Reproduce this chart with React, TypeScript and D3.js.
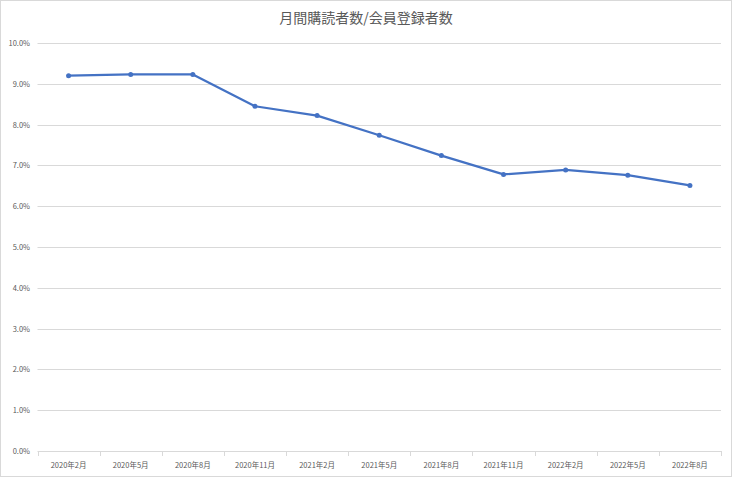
import React, { useEffect, useRef } from 'react';
import * as d3 from 'd3';

const categories = [
  '2020年2月', '2020年5月', '2020年8月', '2020年11月', '2021年2月', '2021年5月',
  '2021年8月', '2021年11月', '2022年2月', '2022年5月', '2022年8月',
];
const ratios = [9.2, 9.23, 9.23, 8.45, 8.22, 7.74, 7.24, 6.78, 6.89, 6.76, 6.51];
const yTicks = [0, 1, 2, 3, 4, 5, 6, 7, 8, 9, 10];
const title = '月間購読者数/会員登録者数';

const W = 734;
const H = 479;
const font = '"Noto Sans CJK JP", "Noto Sans", sans-serif';

const App: React.FC = () => {
  const ref = useRef<SVGSVGElement>(null);

  useEffect(() => {
    if (!ref.current) return;
    const svg = d3.select(ref.current);
    svg.selectAll('*').remove();

    const x = d3.scaleBand<string>().domain(categories).range([37.5, 721]);
    const y = d3.scaleLinear().domain([0, 10]).range([451, 43]);

    svg.append('rect')
      .attr('x', 0.5).attr('y', 0.5)
      .attr('width', W - 3).attr('height', H - 3)
      .attr('fill', '#fff').attr('stroke', '#d9d9d9');

    svg.append('text')
      .attr('x', 366).attr('y', 23)
      .attr('text-anchor', 'middle')
      .attr('font-family', font).attr('font-size', 14)
      .attr('fill', '#595959')
      .text(title);

    // grid + y labels
    const g = svg.append('g');
    g.selectAll('line.grid')
      .data(yTicks)
      .join('line')
      .attr('class', 'grid')
      .attr('x1', 37.5).attr('x2', 721)
      .attr('y1', d => Math.round(y(d)) + 0.5)
      .attr('y2', d => Math.round(y(d)) + 0.5)
      .attr('stroke', '#d9d9d9').attr('stroke-width', 1);

    g.selectAll('text.ylab')
      .data(yTicks)
      .join('text')
      .attr('class', 'ylab')
      .attr('x', 30)
      .attr('y', d => y(d) + 3)
      .attr('text-anchor', 'end')
      .attr('font-family', font).attr('font-size', 7.5)
      .attr('fill', '#595959')
      .text(d => d.toFixed(1) + '%');

    // x tick marks
    const tickXs = categories.map(c => x(c) as number).concat([721]);
    g.selectAll('line.xt')
      .data(tickXs)
      .join('line')
      .attr('class', 'xt')
      .attr('x1', d => Math.round(d) + 0.5).attr('x2', d => Math.round(d) + 0.5)
      .attr('y1', 451).attr('y2', 456)
      .attr('stroke', '#d9d9d9');

    g.selectAll('text.xlab')
      .data(categories)
      .join('text')
      .attr('class', 'xlab')
      .attr('x', d => (x(d) as number) + x.bandwidth() / 2)
      .attr('y', 468)
      .attr('text-anchor', 'middle')
      .attr('font-family', font).attr('font-size', 7.5)
      .attr('fill', '#595959')
      .text(d => d);

    const pts = categories.map((c, i) => [(x(c) as number) + x.bandwidth() / 2, y(ratios[i])] as [number, number]);

    svg.append('path')
      .attr('d', d3.line()(pts) as string)
      .attr('fill', 'none')
      .attr('stroke', '#4472C4')
      .attr('stroke-width', 2.25)
      .attr('stroke-linejoin', 'round');

    svg.selectAll('circle.pt')
      .data(pts)
      .join('circle')
      .attr('class', 'pt')
      .attr('cx', d => d[0]).attr('cy', d => d[1])
      .attr('r', 2.5)
      .attr('fill', '#4472C4');
  }, []);

  return (
    <svg
      ref={ref}
      width={W}
      height={H}
      style={{ position: 'absolute', left: 0, top: 0, background: '#fff' }}
    />
  );
};

export default App;
